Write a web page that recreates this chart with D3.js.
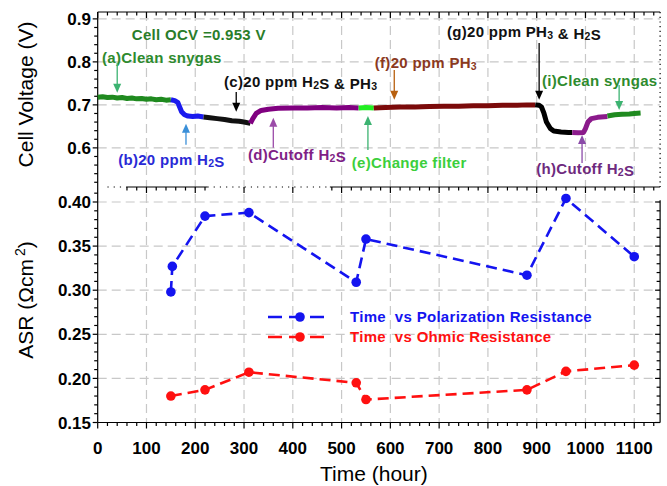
<!DOCTYPE html>
<html>
<head>
<meta charset="utf-8">
<script src="https://cdn.jsdelivr.net/npm/d3@7"></script>
<style>
  body { margin: 0; background: #fff; }
  text { font-family: "Liberation Sans", Arial, sans-serif; }
</style>
</head>
<body>
<div id="chart"></div>
<script>
// ---- Data ----
const timeMajor = d3.range(0, 1101, 100);
const timeMinor = d3.range(0, 1141, 20);
const voltTicks = [0.6, 0.7, 0.8, 0.9];
const asrTicks = [0.15, 0.2, 0.25, 0.3, 0.35, 0.4];

// cell voltage, one array per gas condition: [time (h), voltage (V)]
const segA = [[0,0.718],[10,0.719],[20,0.717],[30,0.718],[40,0.716],[50,0.717],[60,0.715],[70,0.716],[80,0.714],[90,0.715],[100,0.713],[110,0.714],[120,0.712],[130,0.713],[140,0.711],[150,0.712]];
const segB = [[150,0.712],[158,0.710],[164,0.706],[168,0.695],[172,0.684],[178,0.677],[185,0.674],[195,0.673],[205,0.674],[217,0.672]];
const segC = [[217,0.672],[230,0.670],[245,0.668],[260,0.666],[275,0.663],[290,0.662],[300,0.660],[313,0.657]];
const segD = [[313,0.657],[318,0.668],[325,0.680],[335,0.687],[350,0.690],[370,0.692],[400,0.693],[430,0.693],[460,0.694],[490,0.693],[515,0.694],[535,0.693]];
const segE = [[535,0.693],[550,0.694],[566,0.693]];
const segF = [[566,0.693],[590,0.694],[620,0.695],[650,0.695],[680,0.696],[710,0.697],[740,0.697],[770,0.698],[800,0.698],[830,0.699],[860,0.699],[880,0.700],[897,0.700]];
const segG = [[897,0.700],[905,0.699],[910,0.695],[915,0.680],[920,0.660],[928,0.645],[935,0.639],[950,0.637],[965,0.636],[973,0.636]];
const segH = [[973,0.636],[985,0.635],[996,0.636],[1000,0.645],[1005,0.660],[1012,0.668],[1025,0.671],[1045,0.673]];
const segI = [[1045,0.674],[1060,0.677],[1075,0.678],[1090,0.679],[1100,0.680],[1113,0.681]];
const segments = [segA, segB, segC, segD, segE, segF, segG, segH, segI];
const segColors = ["#1f8a1f", "#1a1aee", "#111111", "#800080", "#22ee22", "#7b0a0a", "#000000", "#8b1a8b", "#1f8a1f"];

// ASR
const polTime = [150, 153, 220, 310, 530, 550, 880, 960, 1100];
const polAsr = [0.298, 0.327, 0.384, 0.388, 0.309, 0.358, 0.317, 0.404, 0.338];
const ohmTime = [150, 220, 310, 530, 550, 880, 960, 1100];
const ohmAsr = [0.180, 0.187, 0.207, 0.195, 0.176, 0.187, 0.208, 0.215];

// annotations ("_" marks a subscript digit)
const annLabels = ["Cell OCV =0.953 V", "(a)Clean snygas", "(b)20 ppm H_2S", "(c)20 ppm H_2S & PH_3",
  "(d)Cutoff H_2S", "(e)Change filter", "(f)20 ppm PH_3", "(g)20 ppm PH_3 & H_2S", "(h)Cutoff H_2S", "(i)Clean syngas"];
const annTime = [70, 9, 42, 259, 308, 521, 568, 716, 899, 911];
const annVolt = [0.863, 0.809, 0.572, 0.753, 0.584, 0.565, 0.798, 0.870, 0.551, 0.756];
const annColor = ["#2a7d2a", "#2e8b2e", "#2a2ad6", "#111111", "#7f1f86", "#3ccf3c", "#8b3a1e", "#111111", "#6e2a7e", "#2e8b2e"];
const arrowTime = [null, 40, 181, 284, 360, 554, 608, 905, 993, 1069];
const arrowFrom = [null, 0.798, 0.607, 0.730, 0.600, 0.595, 0.781, 0.844, 0.565, 0.746];
const arrowTo = [null, 0.728, 0.656, 0.684, 0.670, 0.674, 0.712, 0.712, 0.630, 0.688];
const arrowColor = [null, "#3cb371", "#3a8fd8", "#000000", "#9b4ba8", "#3cb371", "#b8600f", "#000000", "#8a4aa8", "#3cb371"];

// ---- Layout ----
const W = 667, H = 486;
const svg = d3.select("#chart").append("svg").attr("width", W).attr("height", H);

const x = d3.scaleLinear().domain([0, 1153]).range([97.7, 660.1]);
const yV = d3.scaleLinear().domain([0.509, 0.916]).range([187, 12]);
const yA = d3.scaleLinear().domain([0.15, 0.417]).range([422.5, 187]);

const gridColor = "#c8c8c8";
const grid = svg.append("g").attr("stroke", gridColor).attr("stroke-width", 1.2).attr("stroke-dasharray", "9,5");

// vertical grid, both panels
timeMajor.filter(t => t > 0).forEach(t => {
  grid.append("line").attr("x1", x(t)).attr("x2", x(t)).attr("y1", yV(0.916)).attr("y2", yA(0.15));
});
voltTicks.forEach(v => {
  grid.append("line").attr("x1", x(0)).attr("x2", x(1153)).attr("y1", yV(v)).attr("y2", yV(v));
});
asrTicks.filter(a => a > 0.15).forEach(a => {
  grid.append("line").attr("x1", x(0)).attr("x2", x(1153)).attr("y1", yA(a)).attr("y2", yA(a));
});

// ---- Axes ----
const axes = svg.append("g").attr("stroke", "#000").attr("stroke-width", 1.2);
const xL = x(0), xR = x(1153);

// left axis line
axes.append("line").attr("x1", xL).attr("x2", xL).attr("y1", yV(0.916)).attr("y2", yA(0.15));
// bottom axis
axes.append("line").attr("x1", xL).attr("x2", xR).attr("y1", yA(0.15)).attr("y2", yA(0.15));
// top border of top panel
axes.append("line").attr("x1", xL).attr("x2", xR).attr("y1", yV(0.916)).attr("y2", yV(0.916));
// right side of top panel (dotted)
axes.append("line").attr("x1", xR).attr("x2", xR).attr("y1", yV(0.916)).attr("y2", yV(0.509))
  .attr("stroke-dasharray", "1.2,3.5");
// right axis of bottom panel
axes.append("line").attr("x1", xR).attr("x2", xR).attr("y1", yA(0.402)).attr("y2", yA(0.15));

// panel divider: solid with dotted gaps
const dividerDotted = [[20, 60], [225, 476]];
const dividerSolid = [[60, 225], [476, 1153]];
dividerSolid.forEach(([a, b]) => {
  axes.append("line").attr("x1", x(a)).attr("x2", x(b)).attr("y1", yV(0.509)).attr("y2", yV(0.509));
});
dividerDotted.forEach(([a, b]) => {
  axes.append("line").attr("x1", x(a)).attr("x2", x(b)).attr("y1", yV(0.509)).attr("y2", yV(0.509))
    .attr("stroke-dasharray", "1.2,5");
});

// time ticks: bottom (outward), top (inward), divider (inward to bottom panel)
timeMinor.forEach(t => {
  const major = t % 100 === 0;
  const len = major ? 6 : 3.5;
  axes.append("line").attr("x1", x(t)).attr("x2", x(t)).attr("y1", yA(0.15)).attr("y2", yA(0.15) + len);
  axes.append("line").attr("x1", x(t)).attr("x2", x(t)).attr("y1", yV(0.916)).attr("y2", yV(0.916) + len);
  const inDots = dividerDotted.some(([a, b]) => t > a && t < b);
  if (t >= 60 && (!inDots || major)) {
    axes.append("line").attr("x1", x(t)).attr("x2", x(t)).attr("y1", yV(0.509)).attr("y2", yV(0.509) + len);
  }
});

// voltage ticks (left, outward)
d3.range(0.52, 0.905, 0.02).forEach(v => {
  const major = voltTicks.some(m => Math.abs(m - v) < 1e-6);
  axes.append("line").attr("x1", xL - (major ? 5 : 3.5)).attr("x2", xL).attr("y1", yV(v)).attr("y2", yV(v));
});
// ASR ticks (left outward, right inward)
d3.range(0.15, 0.4105, 0.01).forEach(a => {
  const major = asrTicks.some(m => Math.abs(m - a) < 1e-6);
  const len = major ? 5 : 3.5;
  axes.append("line").attr("x1", xL - len).attr("x2", xL).attr("y1", yA(a)).attr("y2", yA(a));
  if (a < 0.402) axes.append("line").attr("x1", xR - len).attr("x2", xR).attr("y1", yA(a)).attr("y2", yA(a));
});

// tick labels
const tickFont = { size: "17px", weight: "bold" };
timeMajor.forEach(t => {
  svg.append("text").attr("x", x(t)).attr("y", 454).attr("text-anchor", "middle")
    .style("font-size", tickFont.size).style("font-weight", tickFont.weight).text(t);
});
voltTicks.forEach(v => {
  svg.append("text").attr("x", 91).attr("y", yV(v)).attr("dy", "0.36em").attr("text-anchor", "end")
    .style("font-size", tickFont.size).style("font-weight", tickFont.weight).text(d3.format(".1f")(v));
});
asrTicks.forEach(a => {
  svg.append("text").attr("x", 91).attr("y", yA(a)).attr("dy", "0.36em").attr("text-anchor", "end")
    .style("font-size", tickFont.size).style("font-weight", tickFont.weight).text(d3.format(".2f")(a));
});

// axis titles
svg.append("text").attr("transform", `translate(33,${(yV(0.916) + yV(0.509)) / 2 - 5}) rotate(-90)`)
  .attr("text-anchor", "middle").style("font-size", "21px").text("Cell Voltage (V)");
const asrTitle = svg.append("text").attr("transform", `translate(33,300) rotate(-90)`)
  .attr("text-anchor", "middle").style("font-size", "21px");
asrTitle.append("tspan").text("ASR (Ωcm");
asrTitle.append("tspan").attr("dx", 3).attr("dy", -8).style("font-size", "14px").text("2");
asrTitle.append("tspan").attr("dy", 8).text(")");
svg.append("text").attr("x", (xL + xR) / 2 - 5).attr("y", 481).attr("text-anchor", "middle")
  .style("font-size", "21px").text("Time (hour)");

// ---- Voltage trace ----
const vLine = d3.line().x(d => x(d[0])).y(d => yV(d[1]));
segments.forEach((seg, i) => {
  svg.append("path").datum(seg).attr("fill", "none").attr("stroke", segColors[i])
    .attr("stroke-width", 5).attr("stroke-linejoin", "round").attr("d", vLine);
});

// ---- Annotations ----
function richText(sel, str) {
  str.split(/(_\d)/).forEach(part => {
    if (!part) return;
    if (part[0] === "_") {
      sel.append("tspan").attr("dy", 1.5).style("font-size", "10.5px").text(part[1]);
      sel.append("tspan").attr("dy", -1.5).text("");
    } else {
      sel.append("tspan").text(part);
    }
  });
}

annLabels.forEach((label, i) => {
  const t = svg.append("text").attr("x", x(annTime[i])).attr("y", yV(annVolt[i])).attr("dy", "0.36em")
    .attr("fill", annColor[i]).style("font-size", "15px").style("font-weight", "bold")
    .style("letter-spacing", "0.3px");
  richText(t, label);

  if (arrowTime[i] === null) return;
  const ax = x(arrowTime[i]), y0 = yV(arrowFrom[i]), y1 = yV(arrowTo[i]);
  const dir = y1 > y0 ? 1 : -1;
  svg.append("line").attr("x1", ax).attr("x2", ax).attr("y1", y0).attr("y2", y1 - dir * 7)
    .attr("stroke", arrowColor[i]).attr("stroke-width", 1.3);
  svg.append("path")
    .attr("d", `M${ax},${y1} L${ax - 4},${y1 - dir * 9} L${ax + 4},${y1 - dir * 9} Z`)
    .attr("fill", arrowColor[i]);
});

// ---- ASR series ----
const series = [
  { time: polTime, asr: polAsr, color: "#1414f0", name: "Time  vs Polarization Resistance" },
  { time: ohmTime, asr: ohmAsr, color: "#ff1010", name: "Time  vs Ohmic Resistance" }
];
const aLine = d3.line().x(d => x(d[0])).y(d => yA(d[1]));

series.forEach((s, k) => {
  const pts = s.time.map((t, i) => [t, s.asr[i]]);
  svg.append("path").datum(pts).attr("fill", "none").attr("stroke", s.color)
    .attr("stroke-width", 2.6).attr("stroke-dasharray", "11,6").attr("d", aLine);
  svg.selectAll(null).data(pts).join("circle")
    .attr("cx", d => x(d[0])).attr("cy", d => yA(d[1])).attr("r", 4.8).attr("fill", s.color);

  // legend
  const ly = 317 + k * 20;
  svg.append("line").attr("x1", 268).attr("x2", 328).attr("y1", ly).attr("y2", ly)
    .attr("stroke", s.color).attr("stroke-width", 2.6).attr("stroke-dasharray", "14,7");
  svg.append("circle").attr("cx", 300).attr("cy", ly).attr("r", 4.8).attr("fill", s.color);
  svg.append("text").attr("x", 350).attr("y", ly).attr("dy", "0.36em").attr("fill", s.color)
    .style("font-size", "15px").style("font-weight", "bold").style("letter-spacing", "0.3px")
    .style("white-space", "pre").text(s.name);
});
</script>
</body>
</html>
